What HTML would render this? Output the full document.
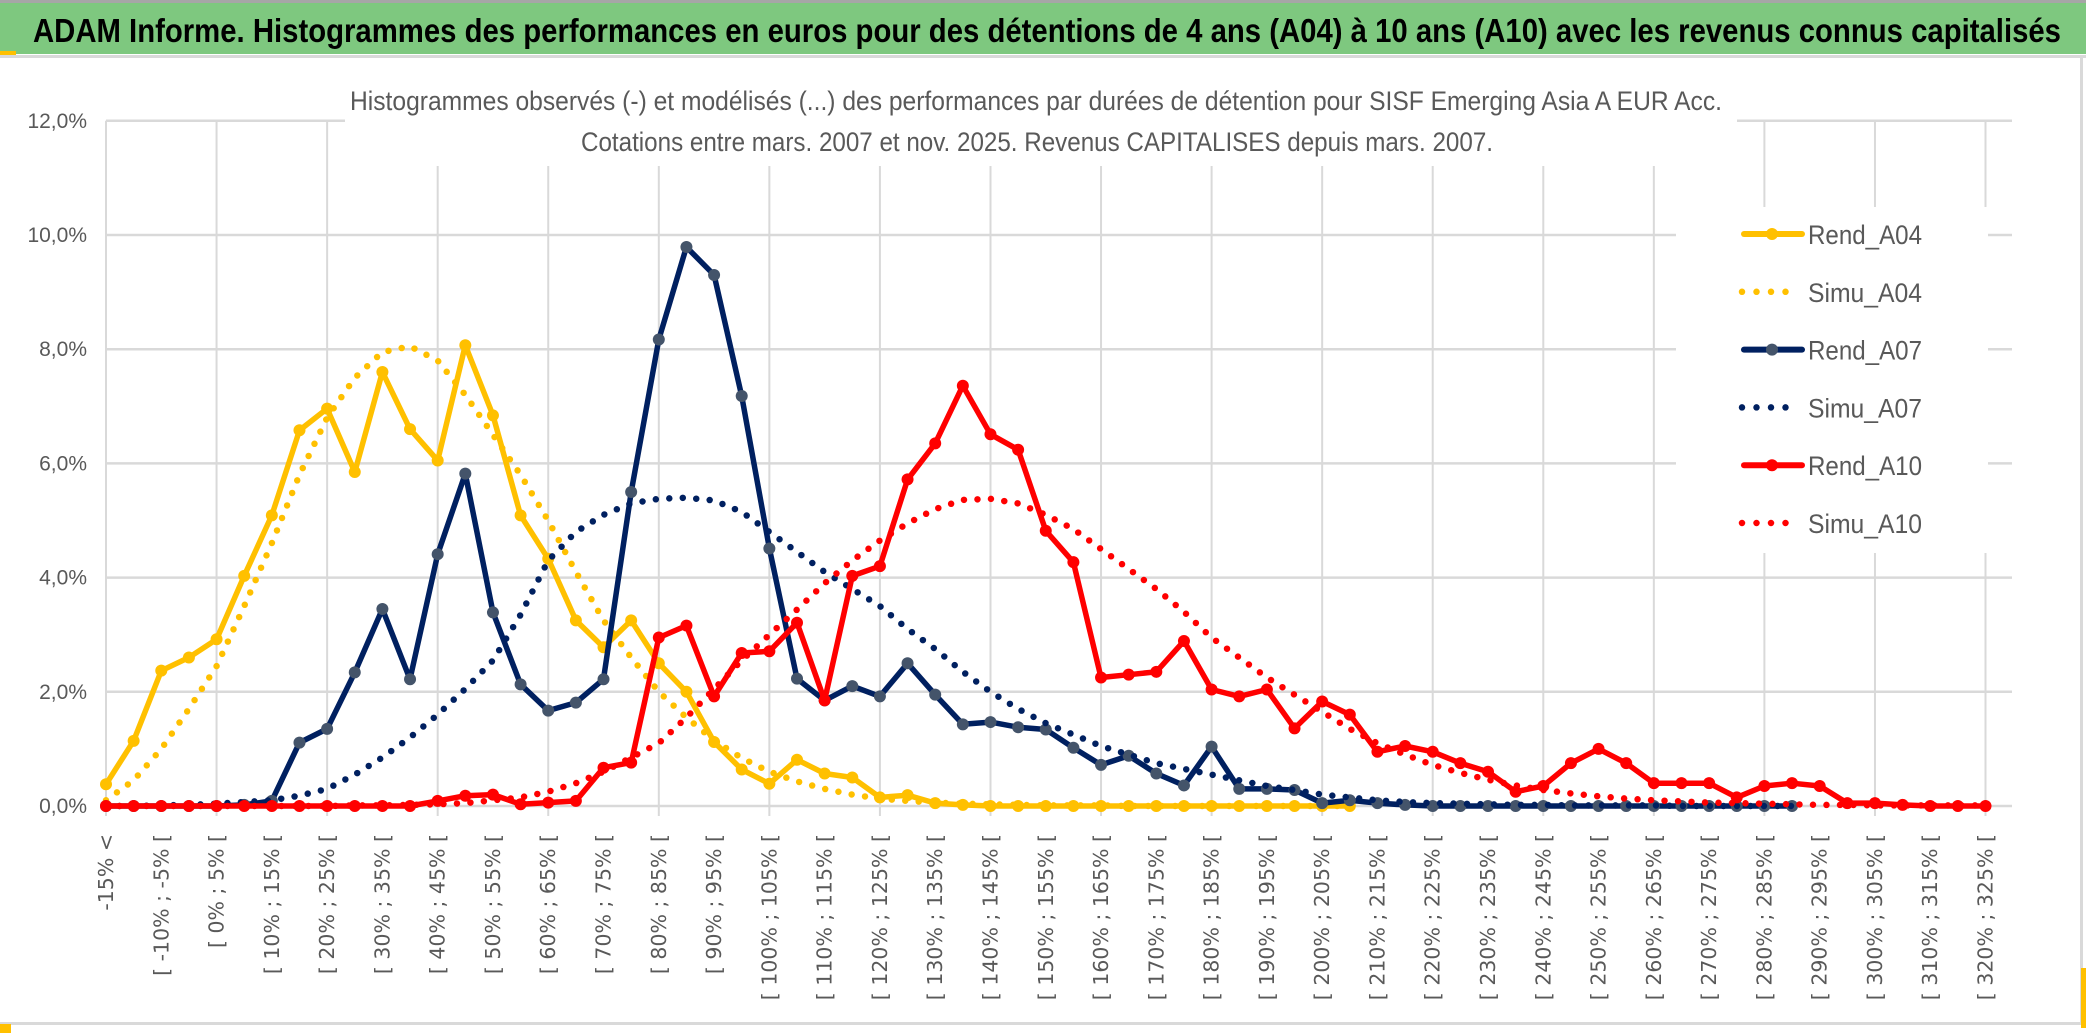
<!DOCTYPE html>
<html><head><meta charset="utf-8"><style>
html,body{margin:0;padding:0;background:#fff;}
svg{display:block;}
text{font-family:"Liberation Sans",sans-serif;}
</style></head><body>
<svg id="chart" width="2086" height="1033" viewBox="0 0 2086 1033" xmlns="http://www.w3.org/2000/svg">
  <rect x="0" y="0" width="2086" height="1033" fill="#fff"/>
  <rect x="0" y="0" width="2086" height="3" fill="#a6a6a6"/>
  <rect x="0" y="3" width="2086" height="51" fill="#7ec87f"/>
  <rect x="0" y="51" width="16" height="4" fill="#ffc000"/>
  <rect x="0" y="55" width="2086" height="3" fill="#d9d9d9"/>
  <text x="33" y="42" font-size="33" font-weight="bold" fill="#000" textLength="2028" lengthAdjust="spacingAndGlyphs">ADAM Informe. Histogrammes des performances en euros pour des détentions de 4 ans (A04) à 10 ans (A10) avec les revenus connus capitalisés</text>
  <rect x="0" y="1022" width="2082" height="3" fill="#d9d9d9"/>
  <rect x="2080" y="58" width="3" height="966" fill="#d9d9d9"/>
  <rect x="0" y="1024" width="11" height="9" fill="#ffc000"/>
  <rect x="2081" y="968" width="5" height="60" fill="#ffc000"/>
  <g id="grid"></g>
  <rect x="345" y="80" width="1392" height="86" fill="#fff"/>
  <text x="350" y="110" font-size="27" fill="#595959" textLength="1372" lengthAdjust="spacingAndGlyphs">Histogrammes observés (-) et modélisés (...) des performances par durées de détention pour SISF Emerging Asia A EUR Acc.</text>
  <text x="581" y="151" font-size="27" fill="#595959" textLength="912" lengthAdjust="spacingAndGlyphs">Cotations entre mars. 2007 et nov. 2025. Revenus CAPITALISES depuis mars. 2007.</text>
  <g id="yticks"></g>
  <g id="xticks"></g>
  <g id="series"></g>
  <g id="legend"></g>
</svg>
<script>
const categoryLowerBounds = [];
for (let k = 0; k < 69; k++) categoryLowerBounds.push(k === 0 ? null : -20 + 5 * k);
const yTicks = [0, 2, 4, 6, 8, 10, 12];
const yTickLabels = ["0,0%", "2,0%", "4,0%", "6,0%", "8,0%", "10,0%", "12,0%"];
const seriesNames = ["Rend_A04", "Simu_A04", "Rend_A07", "Simu_A07", "Rend_A10", "Simu_A10"];
const rendA04 = [0.38,1.14,2.37,2.6,2.92,4.03,5.09,6.58,6.96,5.85,7.6,6.6,6.05,8.07,6.84,5.09,4.33,3.25,2.78,3.25,2.5,2.0,1.12,0.64,0.39,0.81,0.57,0.5,0.15,0.19,0.05,0.02,0,0,0,0,0,0,0,0,0,0,0,0,0,0];
const simuA04 = [0.1,0.45,1.0,1.7,2.45,3.5,4.6,5.8,6.8,7.5,7.95,8.05,7.8,7.2,6.5,5.8,5.0,4.1,3.25,2.6,2.0,1.55,1.15,0.84,0.6,0.43,0.3,0.2,0.13,0.09,0.06,0.04,0.03,0.02,0.01,0.01,0.01,0,0,0,0,0,0,0,0,0];
const rendA07 = [0,0,0,0,0,0.02,0.09,1.11,1.35,2.34,3.45,2.22,4.41,5.82,3.39,2.13,1.67,1.81,2.22,5.5,8.17,9.79,9.3,7.18,4.51,2.23,1.85,2.1,1.92,2.5,1.95,1.43,1.47,1.38,1.34,1.02,0.72,0.88,0.57,0.36,1.04,0.3,0.3,0.28,0.05,0.1,0.05,0.02,0,0,0,0,0,0,0,0,0,0,0,0,0,0];
const simuA07 = [0,0,0.01,0.02,0.04,0.07,0.1,0.18,0.3,0.55,0.85,1.2,1.6,2.05,2.55,3.35,4.3,4.8,5.1,5.3,5.38,5.4,5.35,5.15,4.8,4.45,4.1,3.8,3.5,3.1,2.75,2.35,2.0,1.7,1.45,1.25,1.05,0.9,0.75,0.65,0.55,0.45,0.35,0.28,0.2,0.15,0.1,0.07,0.05,0.04,0.03,0.02,0.02,0.01,0.01,0.01,0.01,0,0,0,0,0];
const rendA10 = [0,0,0,0,0,0,0,0,0,0,0,0,0.09,0.18,0.2,0.03,0.06,0.09,0.67,0.76,2.95,3.16,1.92,2.68,2.71,3.21,1.85,4.03,4.2,5.72,6.35,7.36,6.51,6.24,4.82,4.27,2.25,2.3,2.35,2.89,2.04,1.92,2.04,1.36,1.83,1.6,0.95,1.05,0.95,0.75,0.6,0.25,0.35,0.75,1.0,0.75,0.4,0.4,0.4,0.15,0.35,0.4,0.35,0.05,0.05,0.02,0,0,0];
const simuA10 = [0,0,0,0,0,0,0,0,0,0.01,0.01,0.02,0.03,0.05,0.1,0.15,0.25,0.4,0.6,0.85,1.1,1.55,2.05,2.55,3.0,3.44,3.9,4.3,4.65,4.95,5.2,5.36,5.38,5.3,5.1,4.85,4.5,4.15,3.8,3.4,2.95,2.6,2.25,1.95,1.65,1.35,1.1,0.9,0.72,0.58,0.46,0.36,0.28,0.22,0.17,0.13,0.1,0.08,0.06,0.05,0.04,0.03,0.02,0.02,0.01,0.01,0.01,0.01,0.01];

const NS = "http://www.w3.org/2000/svg";
const X0 = 106, DX = 27.64, Y0 = 806, YPER = 57.1, XRIGHT = 2012;
function xs(i) { return X0 + i * DX; }
function ys(v) { return Y0 - v * YPER; }
function mk(tag, attrs, parent) {
  const e = document.createElementNS(NS, tag);
  for (const k in attrs) e.setAttribute(k, attrs[k]);
  parent.appendChild(e);
  return e;
}
const grid = document.getElementById("grid");
yTicks.forEach(function (t) {
  const l = mk("line", {x1: X0, x2: XRIGHT, y1: ys(t), y2: ys(t), stroke: "#d9d9d9", "stroke-width": 2.5}, grid);
  
  
});
for (let i = 0; i < categoryLowerBounds.length; i += 4) {
  const l = mk("line", {x1: xs(i), x2: xs(i), y1: ys(12), y2: Y0 + 10, stroke: "#d9d9d9", "stroke-width": 2}, grid);
  
  
}
const yt = document.getElementById("yticks");
yTicks.forEach(function (t, k) {
  const tx = mk("text", {x: 87, y: ys(t) + 7, "font-size": 21, fill: "#595959", "text-anchor": "end"}, yt);
  tx.textContent = yTickLabels[k];
  
  
});
const xt = document.getElementById("xticks");
categoryLowerBounds.forEach(function (lb, i) {
  if (i % 2 !== 0) return;
  const label = lb === null ? "-15% <" : "[ " + lb + "% ; " + (lb + 5) + "% [";
  const x = xs(i) + 7, y = 834;
  const tx = mk("text", {x: x, y: y, "font-size": 20.5, fill: "#595959", "text-anchor": "end", transform: "rotate(-90 " + x + " " + y + ")", style: "font-family:'DejaVu Sans',sans-serif"}, xt);
  tx.textContent = label;
  
  
});
const sg = document.getElementById("series");
function pathFrom(arr) {
  let d = "";
  arr.forEach(function (v, i) { if (v === null || v === undefined) return; d += (d ? "L" : "M") + xs(i).toFixed(1) + " " + ys(v).toFixed(1); });
  return d;
}
function drawRend(arr, color, markerColor, name) {
  const p = mk("path", {d: pathFrom(arr), fill: "none", stroke: color, "stroke-width": 5.5, "stroke-linejoin": "round", "stroke-linecap": "round"}, sg);
  
  
  arr.forEach(function (v, i) {
    const c = mk("circle", {cx: xs(i), cy: ys(v), r: 6, fill: markerColor}, sg);
    
    
  });
}
function drawSimu(arr, color, name) {
  const p = mk("path", {d: pathFrom(arr), fill: "none", stroke: color, "stroke-width": 6.5, "stroke-dasharray": "0 13.5", "stroke-linecap": "round", "stroke-linejoin": "round"}, sg);
  
  
}
drawRend(rendA04, "#ffc000", "#ffc000", "rend-a04");
drawSimu(simuA04, "#ffc000", "simu-a04");
drawRend(rendA07, "#002060", "#44546a", "rend-a07");
drawSimu(simuA07, "#002060", "simu-a07");
drawRend(rendA10, "#ff0000", "#ff0000", "rend-a10");
drawSimu(simuA10, "#ff0000", "simu-a10");

const lg = document.getElementById("legend");
const bg = mk("rect", {x: 1676, y: 207, width: 312, height: 346, fill: "#fff"}, lg);


const legColors = ["#ffc000", "#ffc000", "#002060", "#002060", "#ff0000", "#ff0000"];
const legMarker = ["#ffc000", null, "#44546a", null, "#ff0000", null];
seriesNames.forEach(function (n, k) {
  const y = 234 + k * 57.8;
  const g = mk("g", {}, lg);
  
  
  if (legMarker[k]) {
    mk("line", {x1: 1744, x2: 1802, y1: y, y2: y, stroke: legColors[k], "stroke-width": 6, "stroke-linecap": "round"}, g);
    mk("circle", {cx: 1772, cy: y, r: 6, fill: legMarker[k]}, g);
  } else {
    mk("line", {x1: 1742, x2: 1800, y1: y, y2: y, stroke: legColors[k], "stroke-width": 6.5, "stroke-dasharray": "0 14.5", "stroke-linecap": "round"}, g);
  }
  const tx = mk("text", {x: 1808, y: y + 10, "font-size": 27, fill: "#595959", textLength: 114, lengthAdjust: "spacingAndGlyphs"}, g);
  tx.textContent = n;
});
</script>
</body></html>
